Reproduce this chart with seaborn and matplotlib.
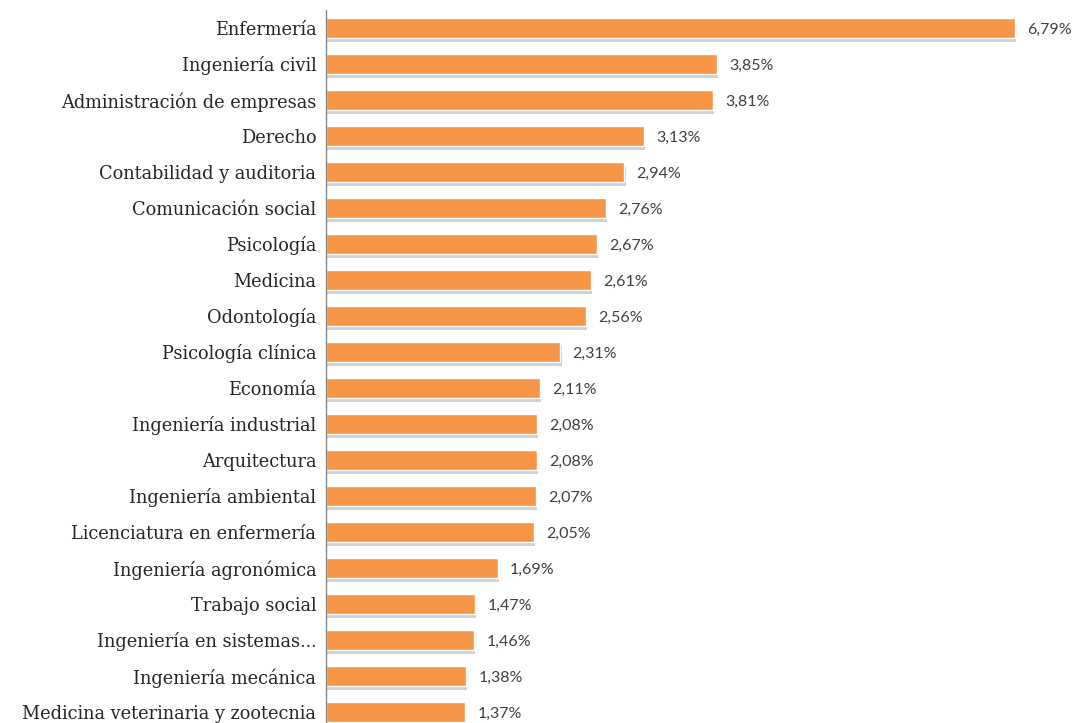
import matplotlib
matplotlib.use("Agg")
import matplotlib.pyplot as plt
import matplotlib.patheffects as pe
import pandas as pd
import seaborn as sns

carreras = ["Enfermería", "Ingeniería civil", "Administración de empresas", "Derecho",
            "Contabilidad y auditoria", "Comunicación social", "Psicología", "Medicina",
            "Odontología", "Psicología clínica", "Economía", "Ingeniería industrial",
            "Arquitectura", "Ingeniería ambiental", "Licenciatura en enfermería",
            "Ingeniería agronómica", "Trabajo social", "Ingeniería en sistemas...",
            "Ingeniería mecánica", "Medicina veterinaria y zootecnia"]
porcentajes = [6.79, 3.85, 3.81, 3.13, 2.94, 2.76, 2.67, 2.61, 2.56, 2.31,
               2.11, 2.08, 2.08, 2.07, 2.05, 1.69, 1.47, 1.46, 1.38, 1.37]

df = pd.DataFrame({"carrera": carreras, "pct": porcentajes})

sns.set_style("white")
fig = plt.figure(figsize=(10.91, 7.23), dpi=100)
ax = fig.add_axes([326 / 1091, 0, 765 / 1091, 713 / 723])

sns.barplot(data=df, x="pct", y="carrera", color="#F79646", width=0.56,
            saturation=1, ax=ax)

# soft shadow below the bars like in the office chart
for p in ax.patches:
    p.set_path_effects([pe.SimplePatchShadow(offset=(0.8, -3), shadow_rgbFace="#8a8a8a",
                                             alpha=0.4), pe.Normal()])

for i, v in enumerate(porcentajes):
    ax.text(v + 0.12, i + 0.05, f"{v:.2f}%".replace(".", ","), va="center", ha="left",
            fontsize=11.5, color="#404040", family=["Lato", "DejaVu Sans"])

ax.set_xlim(0, 765 / 101.5)
ax.set_ylim(19.31, -0.5)
ax.set_xlabel("")
ax.set_ylabel("")
ax.set_xticks([])
ax.tick_params(axis="y", length=0, pad=7)
for lbl in ax.get_yticklabels():
    lbl.set_fontfamily(["DejaVu Serif"])
    lbl.set_fontsize(12.8)
    lbl.set_color("#262626")

for s in ["top", "right", "bottom"]:
    ax.spines[s].set_visible(False)
ax.spines["left"].set_color("#888888")
ax.spines["left"].set_linewidth(1)

fig.savefig("out.png", dpi=100)
